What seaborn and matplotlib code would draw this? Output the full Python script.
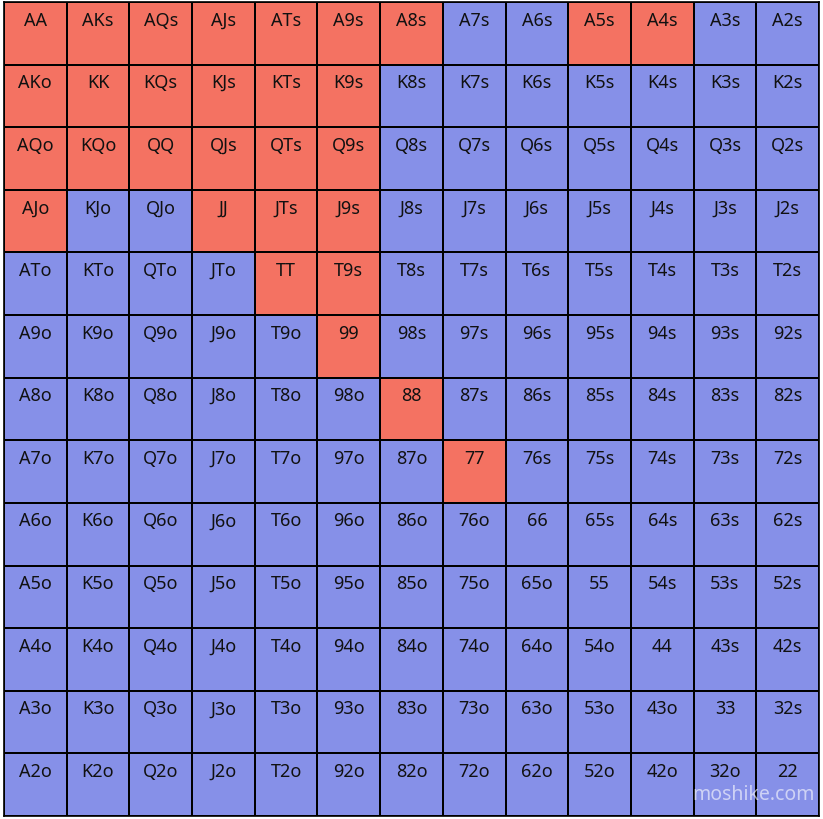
import matplotlib
matplotlib.use("Agg")
import matplotlib.pyplot as plt
import seaborn as sns
import numpy as np
from matplotlib.colors import ListedColormap

ranks = ["A","K","Q","J","T","9","8","7","6","5","4","3","2"]
raise_hands = ["AA","AKs","AQs","AJs","ATs","A9s","A8s","A5s","A4s",
               "AKo","KK","KQs","KJs","KTs","K9s",
               "AQo","KQo","QQ","QJs","QTs","Q9s",
               "AJo","JJ","JTs","J9s","TT","T9s","99","88","77"]

labels = []
vals = []
for i, r1 in enumerate(ranks):
    row_l, row_v = [], []
    for j, r2 in enumerate(ranks):
        if i == j: h = r1 + r2
        elif j > i: h = r1 + r2 + "s"
        else: h = r2 + r1 + "o"
        row_l.append(h)
        row_v.append(1 if h in raise_hands else 0)
    labels.append(row_l); vals.append(row_v)
vals = np.array(vals)

sns.set_theme(style="white")
plt.rcParams['font.family'] = ['Noto Sans', 'DejaVu Sans']
fig = plt.figure(figsize=(8.23, 8.2), dpi=100)
ax = fig.add_axes([4/823, 3/820, 815/823, 814/820])
sns.heatmap(vals, ax=ax, cmap=ListedColormap(["#8690E8", "#F47262"]), cbar=False,
            linewidths=1.2, linecolor="black", square=False, vmin=0, vmax=1)
for i in range(13):
    for j in range(13):
        ax.text(j + 0.5, i + 0.28, labels[i][j], ha="center", va="center",
                fontsize=13, color="#111111")
ax.set_xticks([]); ax.set_yticks([])
for s in ax.spines.values():
    s.set_visible(True); s.set_color("black"); s.set_linewidth(1.2)
fig.text(0.99, 0.03, "moshike.com", ha="right", va="center", fontsize=14,
         color="white", alpha=0.6)
fig.savefig("out.png", dpi=100, facecolor="white")
